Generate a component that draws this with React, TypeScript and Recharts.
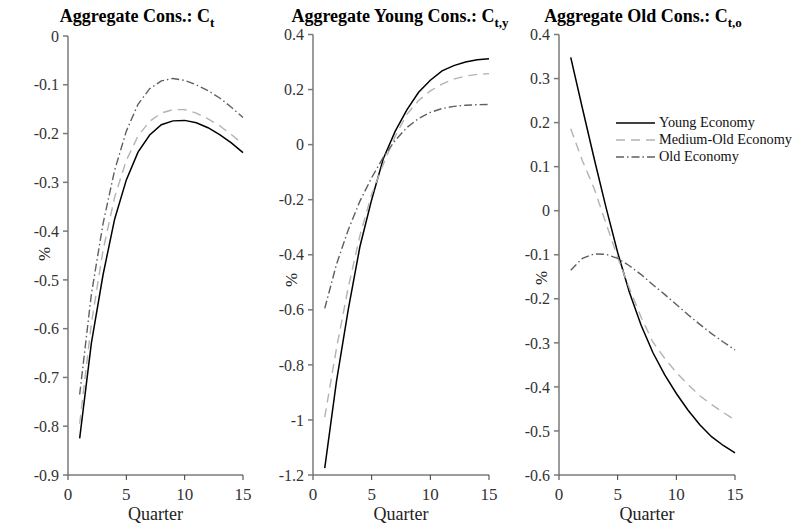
import React from 'react';
import { LineChart, Line, XAxis, YAxis, Legend } from 'recharts';

const quarters = [1, 2, 3, 4, 5, 6, 7, 8, 9, 10, 11, 12, 13, 14, 15];

// Panel 1: aggregate consumption C_t
const aggYoung = [-0.825, -0.63, -0.49, -0.375, -0.295, -0.238, -0.203, -0.182, -0.174, -0.173, -0.178, -0.188, -0.202, -0.219, -0.239];
const aggMedium = [-0.795, -0.59, -0.44, -0.33, -0.255, -0.205, -0.175, -0.158, -0.151, -0.151, -0.158, -0.17, -0.184, -0.202, -0.222];
const aggOld = [-0.735, -0.53, -0.385, -0.275, -0.195, -0.14, -0.108, -0.092, -0.087, -0.091, -0.1, -0.112, -0.127, -0.146, -0.167];

// Panel 2: aggregate young consumption C_t,y
const youngYoung = [-1.175, -0.86, -0.6, -0.37, -0.2, -0.05, 0.048, 0.126, 0.19, 0.234, 0.268, 0.287, 0.3, 0.308, 0.312];
const youngMedium = [-0.99, -0.74, -0.52, -0.33, -0.18, -0.07, 0.03, 0.11, 0.16, 0.195, 0.22, 0.238, 0.249, 0.255, 0.258];
const youngOld = [-0.595, -0.435, -0.31, -0.205, -0.12, -0.045, 0.015, 0.062, 0.095, 0.117, 0.131, 0.139, 0.143, 0.145, 0.146];

// Panel 3: aggregate old consumption C_t,o
const oldYoung = [0.348, 0.232, 0.118, 0.008, -0.095, -0.185, -0.26, -0.322, -0.372, -0.415, -0.453, -0.486, -0.513, -0.533, -0.55];
const oldMedium = [0.186, 0.113, 0.05, -0.028, -0.106, -0.176, -0.242, -0.298, -0.335, -0.367, -0.395, -0.42, -0.44, -0.458, -0.475];
const oldOld = [-0.135, -0.108, -0.098, -0.099, -0.108, -0.125, -0.145, -0.168, -0.19, -0.213, -0.236, -0.258, -0.279, -0.298, -0.316];

const xTicks = [0, 5, 10, 15];
const aggTicks = [-0.9, -0.8, -0.7, -0.6, -0.5, -0.4, -0.3, -0.2, -0.1, 0];
const youngTicks = [-1.2, -1, -0.8, -0.6, -0.4, -0.2, 0, 0.2, 0.4];
const oldTicks = [-0.6, -0.5, -0.4, -0.3, -0.2, -0.1, 0, 0.1, 0.2, 0.3, 0.4];

const seriesNames = ['Young Economy', 'Medium-Old Economy', 'Old Economy'];

const FONT = '"Liberation Serif", "Times New Roman", serif';
const Y_TICK = { fontFamily: FONT, fontSize: 16, fill: '#333' };
const X_TICK = { fontFamily: FONT, fontSize: 17, fill: '#333' };
const STYLES = [
  { stroke: '#000', width: 1.5, dash: undefined as string | undefined },
  { stroke: '#b3b3b3', width: 1.4, dash: '9 6' },
  { stroke: '#5f5f5f', width: 1.4, dash: '8 3 1.5 3' },
];

const build = (a: number[], b: number[], c: number[]) =>
  quarters.map((q, i) => ({ q, young: a[i], medium: b[i], old: c[i] }));

const LegendBox = () => (
  <div style={{ fontFamily: FONT, fontSize: 14.3, color: '#111' }}>
    {seriesNames.map((name, i) => (
      <div key={name} style={{ display: 'flex', alignItems: 'center', height: 17 }}>
        <svg width={43} height={10}>
          <line x1={0} y1={5} x2={39} y2={5} stroke={STYLES[i].stroke} strokeWidth={STYLES[i].width} strokeDasharray={STYLES[i].dash} />
        </svg>
        <span style={{ whiteSpace: 'nowrap' }}>{name}</span>
      </div>
    ))}
  </div>
);

interface PanelProps {
  left: number;
  width: number;
  top: number;
  yWidth: number;
  right: number;
  domain: [number, number];
  ticks: number[];
  data: { q: number; young: number; medium: number; old: number }[];
  legend?: boolean;
}

const Panel: React.FC<PanelProps> = ({ left, width, top, yWidth, right, domain, ticks, data, legend }) => (
  <div style={{ position: 'absolute', left, top: 0 }}>
    <LineChart width={width} height={527} data={data} margin={{ top, right, bottom: 0, left: 0 }}>
      <XAxis
        dataKey="q"
        type="number"
        domain={[0, 15]}
        ticks={xTicks}
        height={52}
        tick={X_TICK}
        tickSize={5}
        tickMargin={8}
        stroke="#3a3a3a"
        label={{ value: 'Quarter', position: 'insideBottom', offset: 7, style: { fontFamily: FONT, fontSize: 18, fill: '#222' } }}
      />
      <YAxis
        type="number"
        domain={domain}
        ticks={ticks}
        width={yWidth}
        interval={0}
        tick={Y_TICK}
        tickSize={5}
        tickMargin={4}
        stroke="#7a7a7a"
        strokeWidth={1.5}
      />
      {(['young', 'medium', 'old'] as const).map((k, i) => (
        <Line
          key={k}
          dataKey={k}
          name={seriesNames[i]}
          type="linear"
          stroke={STYLES[i].stroke}
          strokeWidth={STYLES[i].width}
          strokeDasharray={STYLES[i].dash}
          dot={false}
          activeDot={false}
          isAnimationActive={false}
        />
      ))}
      {legend && (
        <Legend
          layout="vertical"
          align="center"
          verticalAlign="middle"
          content={() => <LegendBox />}
          wrapperStyle={{ position: 'absolute', left: 91, top: 114, width: 178 }}
        />
      )}
    </LineChart>
  </div>
);

const titles = [
  { x: 137, main: 'Aggregate Cons.: C', sub: 't' },
  { x: 400, main: 'Aggregate Young Cons.: C', sub: 't,y' },
  { x: 643, main: 'Aggregate Old Cons.: C', sub: 't,o' },
];

const percentLabels = [
  { x: 44, y: 254 },
  { x: 291, y: 280 },
  { x: 541, y: 278 },
];

export default function App() {
  return (
    <div style={{ position: 'absolute', left: 0, top: 0, width: 795, height: 527, background: '#fff' }}>
      <Panel left={0} width={260} top={36} yWidth={68} right={17} domain={[-0.9, 0]} ticks={aggTicks} data={build(aggYoung, aggMedium, aggOld)} />
      <Panel left={260} width={265} top={34.5} yWidth={53} right={36} domain={[-1.2, 0.4]} ticks={youngTicks} data={build(youngYoung, youngMedium, youngOld)} />
      <Panel left={525} width={270} top={34.5} yWidth={34} right={60} domain={[-0.6, 0.4]} ticks={oldTicks} data={build(oldYoung, oldMedium, oldOld)} legend />
      <svg width={795} height={527} style={{ position: 'absolute', left: 0, top: 0, pointerEvents: 'none' }}>
        {titles.map((t) => (
          <text key={t.main} x={t.x} y={22} textAnchor="middle" fontFamily={FONT} fontSize={18} fontWeight="bold" fill="#000">
            {t.main}
            <tspan dy={5} fontSize={13}>{t.sub}</tspan>
          </text>
        ))}
        {percentLabels.map((p, i) => (
          <text key={i} x={p.x} y={p.y} textAnchor="middle" dominantBaseline="central" transform={`rotate(-90 ${p.x} ${p.y})`} fontFamily={FONT} fontSize={17} fill="#222">
            %
          </text>
        ))}
      </svg>
    </div>
  );
}
